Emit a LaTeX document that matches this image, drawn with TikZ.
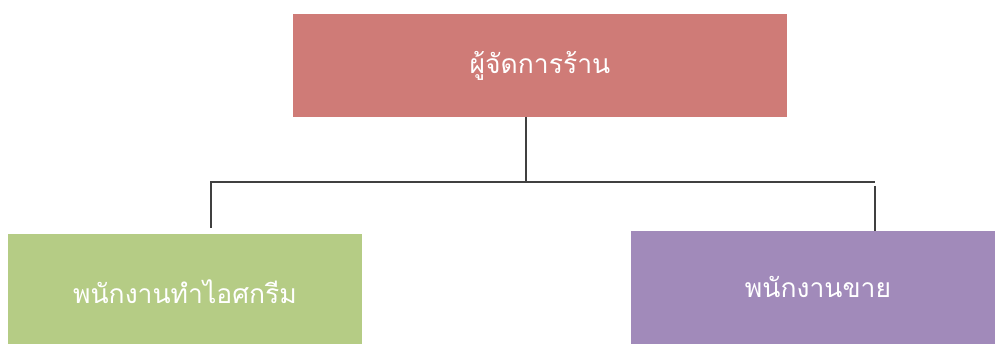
\documentclass[tikz,border=0pt]{standalone}
\usepackage{fontspec}
\newfontfamily\thaifont[Script=Thai]{Loma}
\definecolor{redbox}{HTML}{CF7B77}
\definecolor{greenbox}{HTML}{B5CC85}
\definecolor{purplebox}{HTML}{A18ABA}
\definecolor{linegray}{HTML}{404040}
\tikzset{
  orgbox/.style={draw=none, inner sep=0pt, text=white, font=\thaifont\fontsize{26.5}{32}\selectfont},
  conn/.style={draw=linegray, line width=1.6pt}
}
\begin{document}
\begin{tikzpicture}[x=1pt,y=-1pt]
\useasboundingbox (0,0) rectangle (995,344);
\fill[redbox] (293,14) rectangle (787,117);
\fill[greenbox] (8,234) rectangle (362,344);
\fill[purplebox] (631,231) rectangle (995,344);
\node[orgbox] (top) at (540,66) {ผู้จัดการร้าน};
\node[orgbox] (left) at (185,292) {พนักงานทำไอศกรีม};
\node[orgbox] (right) at (818,287) {พนักงานขาย};
\coordinate (topb) at (526,117);
\coordinate (mid) at (526,182);
\coordinate (lj) at (211,182);
\coordinate (rj) at (875,182);
\coordinate (lb) at (211,228);
\coordinate (rt) at (875,186);
\coordinate (rb) at (875,231);
\draw[conn] (topb) -- (mid);
\draw[conn] (lb) -- (lj) -- (rj);
\draw[conn] (rt) -- (rb);
\end{tikzpicture}
\end{document}
